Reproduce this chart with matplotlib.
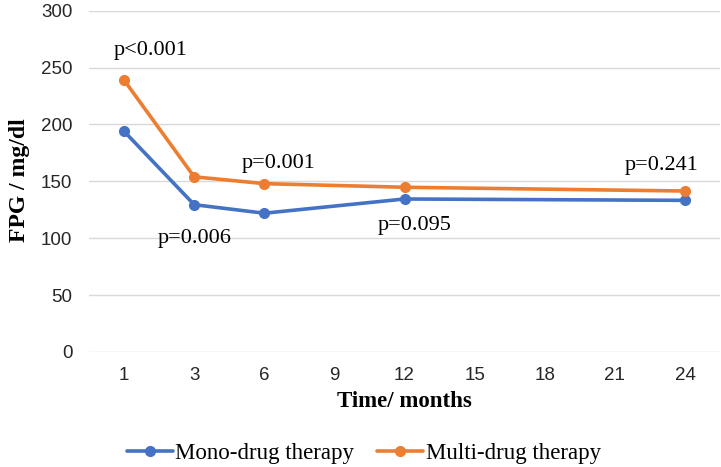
import matplotlib.pyplot as plt

# categorias del eje x (meses)
months = ["1", "3", "6", "9", "12", "15", "18", "21", "24"]
time_points = ["1", "3", "6", "12", "24"]
mono = [194, 129.5, 122, 134.5, 133.3]
multi = [239, 154, 148, 144.8, 141.5]

p_labels = ["p<0.001", "p=0.006", "p=0.001", "p=0.095", "p=0.241"]
p_pos = [(0.38, 265), (1.01, 100), (2.2, 166), (4.14, 111.5), (7.67, 164)]

BLUE = "#4472C4"
ORANGE = "#ED7D31"
serif = "Liberation Serif"
sans = "Liberation Sans"

fig = plt.figure(figsize=(7.21, 4.67), dpi=100)
ax = fig.add_axes([89 / 721, 1 - 352 / 467, 631 / 721, 341.3 / 467])

x = [months.index(t) for t in time_points]
ax.plot(x, mono, color=BLUE, lw=2.6, marker="o", ms=7, label="Mono-drug therapy",
        solid_capstyle="round", zorder=3)
ax.plot(x, multi, color=ORANGE, lw=2.6, marker="o", ms=7, label="Multi-drug therapy",
        solid_capstyle="round", zorder=3)

for lab, (px, py) in zip(p_labels, p_pos):
    ax.text(px, py, lab, ha="center", va="center", fontsize=16, family=serif)

ax.set_xlim(-0.5, len(months) - 0.5)
ax.set_ylim(0, 300)
ax.set_yticks(range(0, 301, 50))
ax.set_xticks(range(len(months)))
ax.set_xticklabels(months)
ax.tick_params(length=0, labelsize=13.5, colors="#262626")
ax.tick_params(axis="x", pad=11)
ax.tick_params(axis="y", pad=12)
for lbl in ax.get_xticklabels() + ax.get_yticklabels():
    lbl.set_family(sans)
ax.grid(axis="y", color="#D9D9D9", lw=1)
ax.set_axisbelow(True)
for s in ax.spines.values():
    s.set_visible(False)

ax.set_xlabel("Time/ months", fontsize=16.5, fontweight="bold", family=serif)
ax.set_ylabel("FPG / mg/dl", fontsize=17, fontweight="bold", family=serif)
ax.xaxis.set_label_coords((404 - 89) / 631, -(391 - 352) / 341.3)
ax.yaxis.set_label_coords(-(89 - 30) / 631, (352 - 180.5) / 341.3)

fig.legend(loc="center", bbox_to_anchor=(364 / 721, 1 - 453 / 467), ncol=2, frameon=False,
           prop={"family": serif, "size": 16.5}, handlelength=2.0, handletextpad=0.1,
           columnspacing=1.0)

fig.savefig("out.png", dpi=100)
